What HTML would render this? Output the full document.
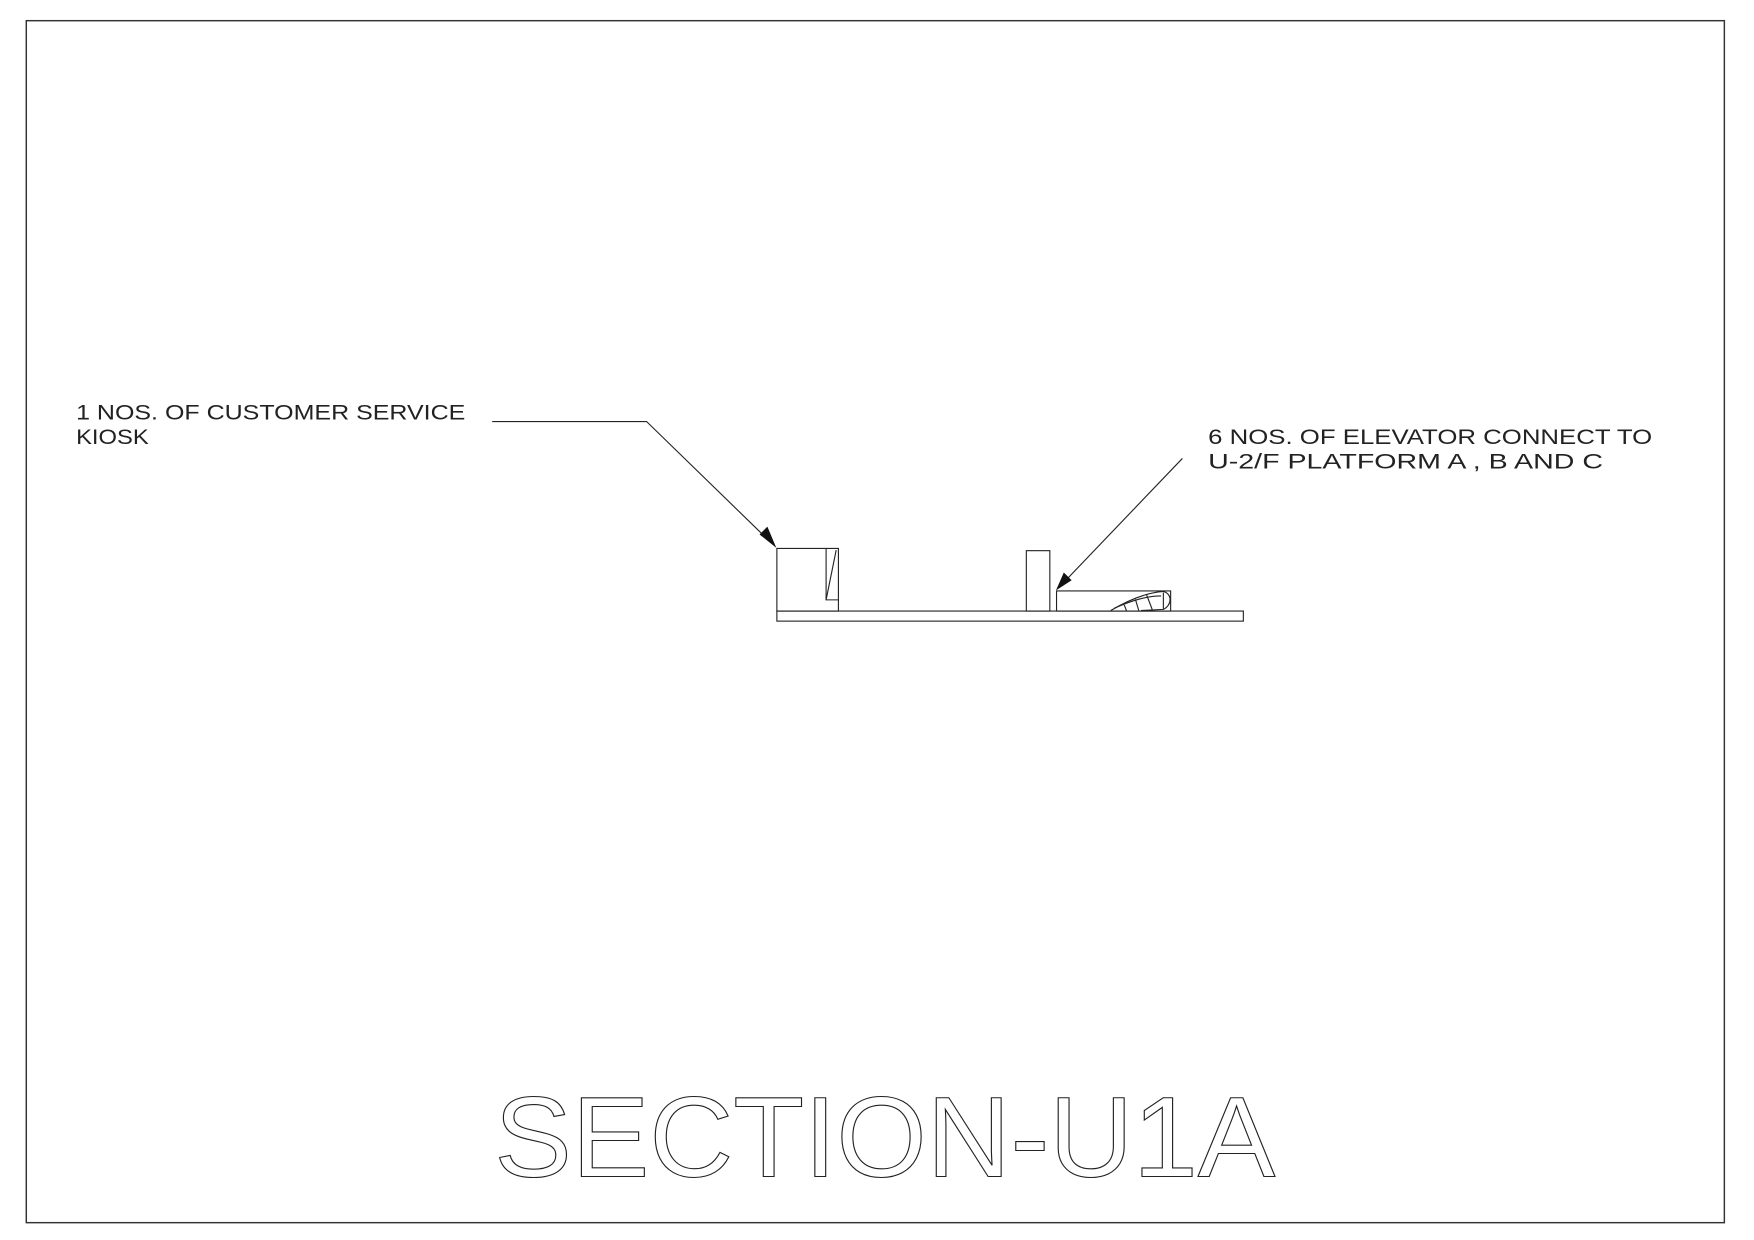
<!DOCTYPE html>
<html><head><meta charset="utf-8"><style>
html,body{margin:0;padding:0;background:#fff;}
svg{display:block;}
text{font-family:"Liberation Sans",sans-serif;fill:#222;}
</style></head><body>
<svg width="1754" height="1240" viewBox="0 0 1568 1109" preserveAspectRatio="none" xmlns="http://www.w3.org/2000/svg">
<rect x="0" y="0" width="1568" height="1109" fill="#fff"/>
<rect x="23.5" y="18.5" width="1518" height="1075" fill="none" stroke="#333" stroke-width="1.3"/>
<g fill="none" stroke="#222" stroke-width="1">
<polyline points="440,377 578,377 690,486"/>
<rect x="694.5" y="490.5" width="55" height="56"/>
<polyline points="738.5,490.5 738.5,536.5 749.5,536.5"/>
<line x1="738.5" y1="536.5" x2="747.5" y2="492"/>
<rect x="694.5" y="546.5" width="417" height="9"/>
<rect x="917.5" y="492.5" width="21" height="54"/>
<rect x="944.5" y="528.5" width="102" height="18"/>
<path d="M993,546 C1010,536 1025,530 1040,529 C1048,531 1048,541 1040,545 L1020,546"/>
<path d="M996,544 C1012,537 1025,533 1038,533"/>
<line x1="1005" y1="541" x2="1007" y2="546"/>
<line x1="1015" y1="536" x2="1018" y2="546"/>
<line x1="1025" y1="532" x2="1030" y2="545"/>
<line x1="1040" y1="530" x2="1040" y2="545"/>
<line x1="1057" y1="410" x2="948" y2="524"/>
</g>
<polygon points="694,490 679,478 686,471" fill="#111"/>
<polygon points="944,528 951,512 958,519" fill="#111"/>
<text x="68" y="375" font-size="19" textLength="348" lengthAdjust="spacingAndGlyphs">1 NOS. OF CUSTOMER SERVICE</text>
<text x="68" y="397" font-size="19" textLength="65" lengthAdjust="spacingAndGlyphs">KIOSK</text>
<text x="1080" y="397" font-size="19" textLength="397" lengthAdjust="spacingAndGlyphs">6 NOS. OF ELEVATOR CONNECT TO</text>
<text x="1080" y="419" font-size="19" textLength="353" lengthAdjust="spacingAndGlyphs">U-2/F PLATFORM A , B AND C</text>
<text x="442" y="1052" font-size="102" textLength="698" lengthAdjust="spacingAndGlyphs" style="fill:none;stroke:#222;stroke-width:1">SECTION-U1A</text>
</svg>
</body></html>
